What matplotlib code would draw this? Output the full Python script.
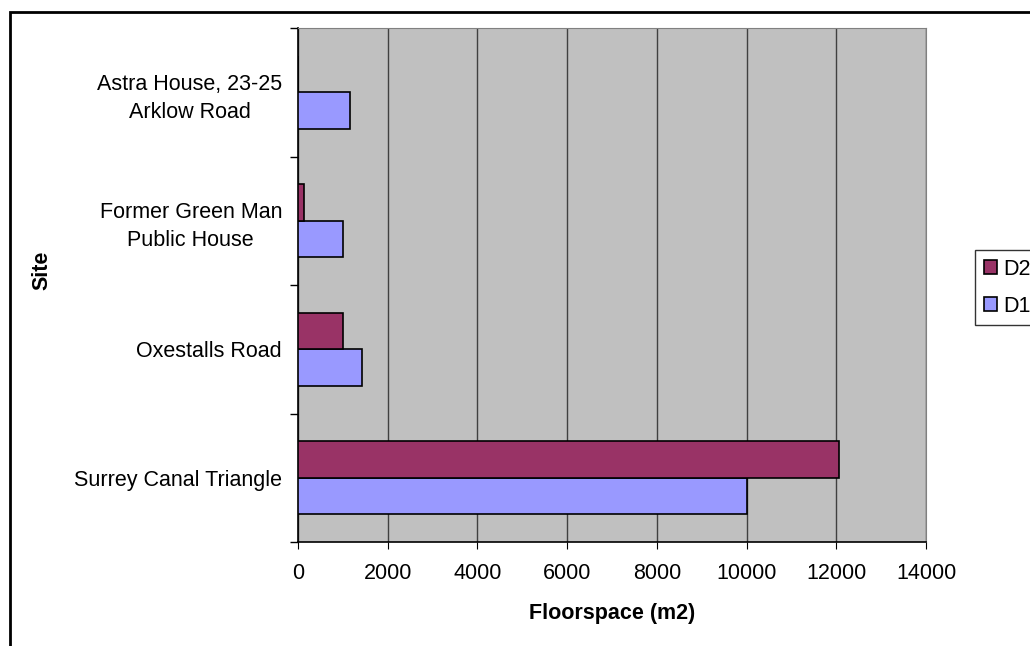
import numpy as np
import matplotlib
matplotlib.use('Agg')
import matplotlib.pyplot as plt
from matplotlib.patches import Rectangle

plt.rcParams['font.family'] = ['Liberation Sans', 'DejaVu Sans']

# Data (bottom to top)
sites = ['Surrey Canal Triangle', 'Oxestalls Road', 'Former Green Man\nPublic House',
         'Astra House, 23-25\nArklow Road']
d1 = [10000, 1420, 1000, 1160]
d2 = [12050, 1000, 140, 0]

fig = plt.figure(figsize=(10.3, 6.46), dpi=100)
ax = fig.add_axes([298/1030, 1 - 542/646, 628/1030, 514/646])

y = np.arange(len(sites))
h = 1 / 3.5
ax.barh(y - h/2, d1, height=h, color='#9999FF', edgecolor='black', linewidth=1.2, label='D1', zorder=3)
ax.barh(y + h/2, d2, height=h, color='#993366', edgecolor='black', linewidth=1.2, label='D2', zorder=3)

ax.set_facecolor('#C0C0C0')
ax.set_xlim(0, 14000)
ax.set_ylim(-0.5, len(sites) - 0.5)
ax.set_xticks(range(0, 14001, 2000))
ax.grid(axis='x', color='#404040', linewidth=1, zorder=1)
ax.set_yticks(np.arange(-0.5, len(sites), 1))
ax.set_yticklabels([])
ax.set_yticks(y, minor=True)
ax.set_yticklabels(sites, minor=True, fontsize=15.5, ha='right', multialignment='center',
                   linespacing=1.45)
ax.tick_params(axis='y', which='minor', length=0, pad=11.5)
ax.tick_params(axis='y', which='major', length=6, direction='out', width=1)
ax.tick_params(axis='x', length=5, direction='out', labelsize=15.5, pad=10)

for s in ['top', 'right']:
    ax.spines[s].set_color('#808080')
for s in ['left', 'bottom']:
    ax.spines[s].set_color('black')
    ax.spines[s].set_linewidth(1.2)

ax.set_xlabel('Floorspace (m2)', fontsize=15.5, fontweight='bold', labelpad=14)
fig.text(42/1030, 1 - 270/646, 'Site', rotation=90, fontsize=15.5, fontweight='bold',
         ha='center', va='center')

handles, labels = ax.get_legend_handles_labels()
leg = fig.legend(handles[::-1], labels[::-1], loc='upper left', bbox_to_anchor=(975/1030, 1 - 250/646),
                 fontsize=15.5, frameon=True, fancybox=False, edgecolor='black',
                 handlelength=0.6, handleheight=0.6, handletextpad=0.3, borderpad=0.4, labelspacing=0.75,
                 borderaxespad=0)
leg.get_frame().set_linewidth(1)

# outer chart border
fig.patches.append(Rectangle((10/1030, -0.1), 1.1, 1 - 12/646 + 0.1, transform=fig.transFigure,
                             fill=False, edgecolor='black', linewidth=2))

fig.savefig('out.png', dpi=100)
